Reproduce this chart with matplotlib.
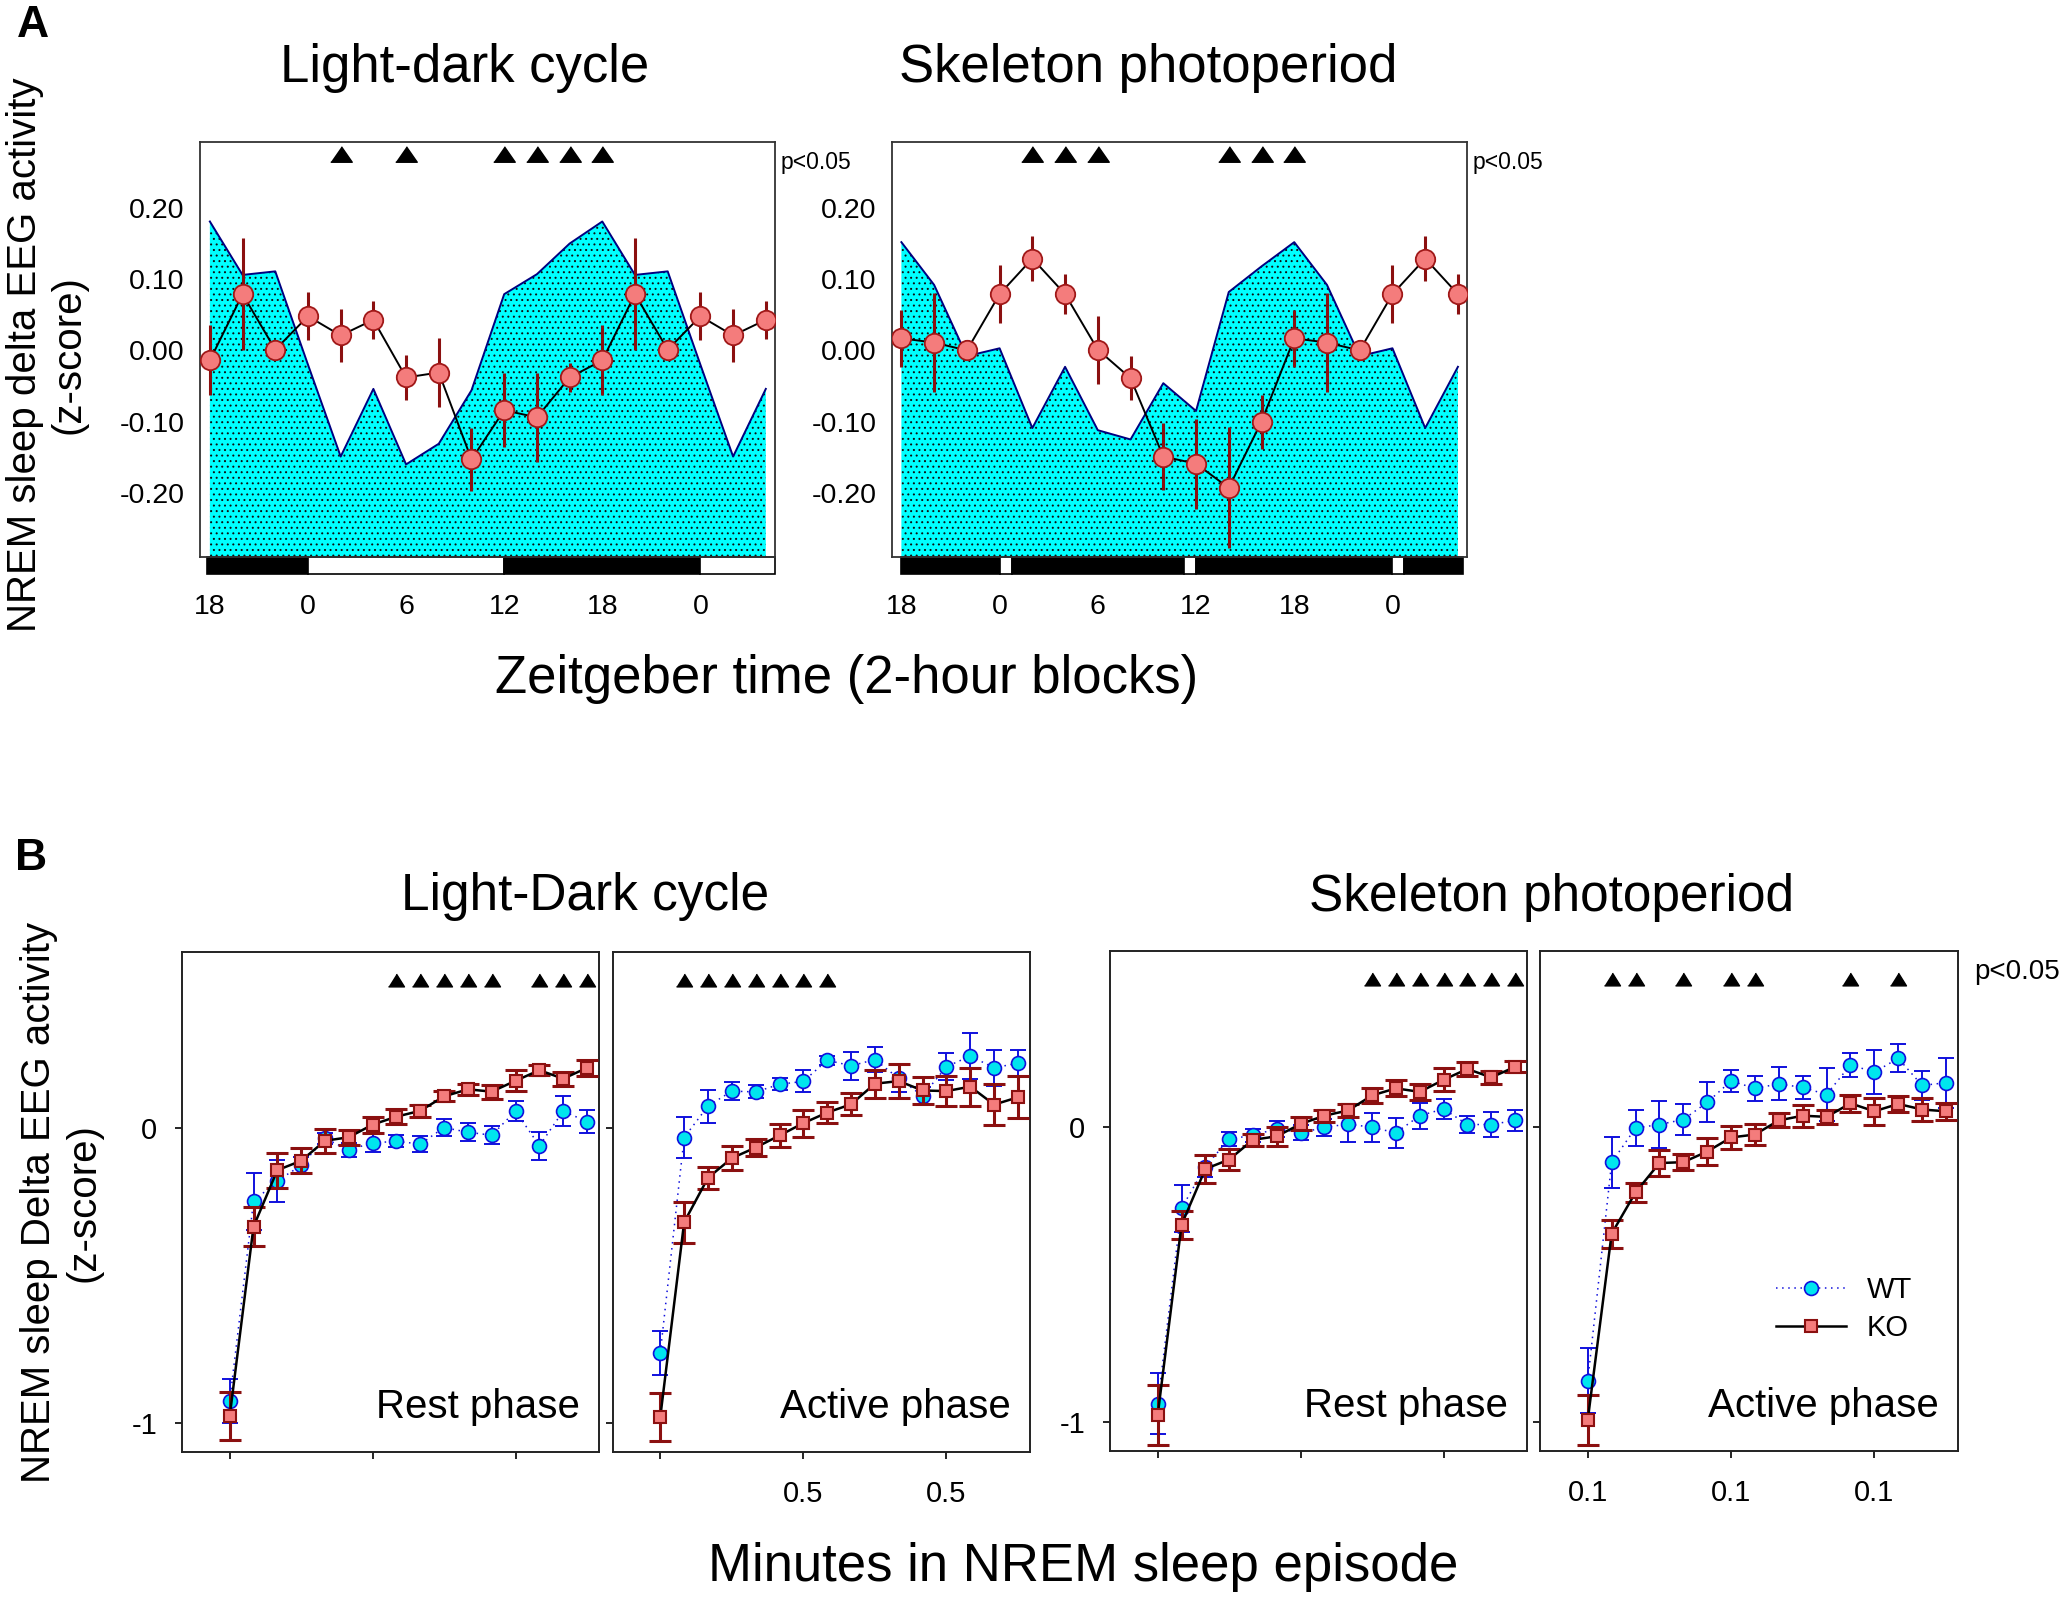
import numpy as np
import matplotlib
matplotlib.use("Agg")
import matplotlib.pyplot as plt
from matplotlib.patches import Rectangle
from matplotlib.transforms import blended_transform_factory

plt.rcParams['font.family'] = ['Liberation Sans', 'DejaVu Sans']
plt.rcParams['hatch.linewidth'] = 0.7

# ---------------- panel A data (2-hour blocks, double plotted) ----------------
zt_blocks = [18, 20, 22, 0, 2, 4, 6, 8, 10, 12, 14, 16, 18, 20, 22, 0, 2, 4]

ld_wt = [0.181, 0.106, 0.111, -0.020, -0.149, -0.054, -0.160, -0.131, -0.056,
         0.079, 0.107, 0.150, 0.181, 0.106, 0.111, -0.020, -0.149, -0.054]
ld_ko = [-0.014, 0.079, 0.001, 0.048, 0.021, 0.043, -0.038, -0.031, -0.153,
         -0.084, -0.094, -0.038, -0.014, 0.079, 0.001, 0.048, 0.021, 0.043]
ld_ko_err = [0.049, 0.079, 0.008, 0.034, 0.037, 0.027, 0.032, 0.049, 0.044,
             0.052, 0.062, 0.020, 0.049, 0.079, 0.008, 0.034, 0.037, 0.027]
ld_sig = [4, 6, 9, 10, 11, 12]

sp_wt = [0.152, 0.092, -0.008, 0.003, -0.109, -0.023, -0.112, -0.125, -0.046,
         -0.085, 0.082, 0.118, 0.152, 0.092, -0.008, 0.003, -0.109, -0.023]
sp_ko = [0.017, 0.011, 0.000, 0.079, 0.129, 0.079, 0.001, -0.039, -0.149,
         -0.159, -0.193, -0.100, 0.017, 0.011, 0.000, 0.079, 0.129, 0.079]
sp_ko_err = [0.040, 0.070, 0.008, 0.041, 0.031, 0.028, 0.048, 0.031, 0.047,
             0.063, 0.085, 0.038, 0.040, 0.070, 0.008, 0.041, 0.031, 0.028]
sp_sig = [4, 5, 6, 10, 11, 12]

# light/dark bars (block index start, end, colour)
ld_bar = [(-0.1, 3, 'black'), (3, 9, 'white'), (9, 15, 'black'), (15, 17.28, 'white')]
sp_bar = [(0, 3, 'black'), (3, 3.38, 'white'), (3.38, 8.62, 'black'), (8.62, 9, 'white'),
          (9, 15, 'black'), (15, 15.36, 'white'), (15.36, 17.16, 'black')]

# ---------------- panel B data (bins within NREM episode) ----------------
ld_rest_wt = [-0.928, -0.248, -0.178, -0.126, -0.034, -0.073, -0.049, -0.044,
              -0.053, 0.003, -0.013, -0.023, 0.059, -0.059, 0.059, 0.023]
ld_rest_wt_err = [0.075, 0.096, 0.072, 0.030, 0.020, 0.025, 0.030, 0.020,
                  0.027, 0.030, 0.030, 0.030, 0.033, 0.048, 0.050, 0.040]
ld_rest_ko = [-0.979, -0.334, -0.142, -0.110, -0.042, -0.030, 0.013, 0.040,
              0.060, 0.109, 0.133, 0.125, 0.162, 0.198, 0.169, 0.206]
ld_rest_ko_err = [0.082, 0.067, 0.060, 0.043, 0.040, 0.025, 0.027, 0.025,
                  0.020, 0.017, 0.019, 0.024, 0.036, 0.018, 0.024, 0.027]
ld_rest_sig = [7, 8, 9, 10, 11, 13, 14, 15]

ld_act_wt = [-0.763, -0.031, 0.076, 0.127, 0.124, 0.150, 0.160, 0.232,
             0.213, 0.234, 0.170, 0.111, 0.210, 0.246, 0.206, 0.222]
ld_act_wt_err = [0.075, 0.070, 0.056, 0.032, 0.022, 0.020, 0.037, 0.015,
                 0.047, 0.043, 0.045, 0.030, 0.045, 0.077, 0.062, 0.043]
ld_act_ko = [-0.981, -0.319, -0.168, -0.101, -0.065, -0.024, 0.018, 0.054,
             0.082, 0.152, 0.161, 0.129, 0.127, 0.142, 0.081, 0.106]
ld_act_ko_err = [0.081, 0.070, 0.038, 0.040, 0.029, 0.038, 0.046, 0.035,
                 0.038, 0.047, 0.058, 0.046, 0.050, 0.065, 0.070, 0.072]
ld_act_sig = [1, 2, 3, 4, 5, 6, 7]

sp_rest_wt = [-0.939, -0.275, -0.133, -0.039, -0.027, -0.004, -0.018, 0.000,
              0.012, 0.000, -0.018, 0.040, 0.063, 0.010, 0.010, 0.024]
sp_rest_wt_err = [0.103, 0.080, 0.035, 0.025, 0.023, 0.027, 0.026, 0.029,
                  0.063, 0.048, 0.051, 0.044, 0.035, 0.028, 0.042, 0.035]
sp_rest_ko = [-0.978, -0.331, -0.141, -0.109, -0.042, -0.030, 0.012, 0.040,
              0.058, 0.109, 0.133, 0.121, 0.162, 0.199, 0.170, 0.206]
sp_rest_ko_err = [0.102, 0.047, 0.049, 0.035, 0.021, 0.032, 0.022, 0.021,
                  0.021, 0.026, 0.027, 0.028, 0.039, 0.025, 0.023, 0.019]
sp_rest_sig = [9, 10, 11, 12, 13, 14, 15]

sp_act_wt = [-0.861, -0.119, -0.002, 0.010, 0.027, 0.085, 0.158, 0.133,
             0.148, 0.136, 0.112, 0.213, 0.188, 0.235, 0.143, 0.152]
sp_act_wt_err = [0.110, 0.086, 0.061, 0.080, 0.053, 0.068, 0.038, 0.043,
                 0.056, 0.038, 0.089, 0.040, 0.075, 0.048, 0.048, 0.085]
sp_act_ko = [-0.994, -0.361, -0.221, -0.121, -0.118, -0.082, -0.034, -0.024,
             0.024, 0.040, 0.036, 0.082, 0.055, 0.080, 0.061, 0.055]
sp_act_ko_err = [0.085, 0.048, 0.031, 0.043, 0.028, 0.045, 0.038, 0.035,
                 0.024, 0.037, 0.024, 0.028, 0.045, 0.028, 0.040, 0.029]
sp_act_sig = [1, 2, 4, 6, 7, 11, 13]

b_ticks = [0, 6, 12]
b_ticklabels = {'rest': ['', '', ''], 'ld_act': ['', '0.5', '0.5'], 'sp_act': ['0.1', '0.1', '0.1']}

# colours
cyan = '#00ffff'
navy = '#000080'
salmon = '#f47c7c'
darkred = '#8b1010'
wt_face = '#00e5ee'
wt_edge = '#1010dd'

fig = plt.figure(figsize=(20.71, 16.01), dpi=100)


def wide_triangle(ratio):
    return [(-1, -ratio), (1, -ratio), (0, ratio)]


def panel_a(ax, wt, ko, err, sig, bar, title, title_x):
    x = np.arange(len(zt_blocks))
    ymin, ymax = -0.29, 0.2926
    ax.fill_between(x, ymin, wt, facecolor=cyan, edgecolor='#101010', hatch='...',
                    linewidth=0, zorder=1)
    ax.plot(x, wt, color=navy, lw=1.4, zorder=2)
    ax.errorbar(x, ko, yerr=err, fmt='none', ecolor=darkred, elinewidth=2.2, zorder=3)
    ax.plot(x, ko, color='black', lw=1.4, marker='o', ms=14, mfc=salmon,
            mec='#a01818', mew=1.3, zorder=4)
    ax.plot(sig, [0.276] * len(sig), ls='none', marker=wide_triangle(0.72), ms=15.5,
            color='black', zorder=5)
    ax.set_xlim(-0.3, 17.28)
    ax.set_ylim(ymin, ymax)
    ax.set_yticks([0.2, 0.1, 0.0, -0.1, -0.2])
    ax.set_yticklabels(['0.20', '0.10', '0.00', '-0.10', '-0.20'])
    ticks = [i for i, h in enumerate(zt_blocks) if h % 6 == 0]
    ax.set_xticks(ticks)
    ax.set_xticklabels([str(zt_blocks[i]) for i in ticks])
    ax.tick_params(axis='y', length=0, pad=11, labelsize=20.5)
    ax.tick_params(axis='x', length=0, pad=27, labelsize=20.5)
    for s in ax.spines.values():
        s.set_color('#333333')
        s.set_linewidth(1.3)
    trans = blended_transform_factory(ax.transData, ax.transAxes)
    for x0, x1, c in bar:
        ax.add_patch(Rectangle((x0, -0.041), x1 - x0, 0.041, transform=trans,
                               facecolor=c, edgecolor='black', lw=1.2, clip_on=False))
    ax.text(1.01, 0.95, 'p<0.05', transform=ax.transAxes, fontsize=16.5,
            ha='left', va='center')
    fig.text(title_x, 0.949, title, fontsize=38, ha='center', va='baseline')


axA1 = fig.add_axes([0.0966, 0.6521, 0.2776, 0.2592])
axA2 = fig.add_axes([0.4305, 0.6521, 0.2779, 0.2592])
panel_a(axA1, ld_wt, ld_ko, ld_ko_err, ld_sig, ld_bar, 'Light-dark cycle', 0.2245)
panel_a(axA2, sp_wt, sp_ko, sp_ko_err, sp_sig, sp_bar, 'Skeleton photoperiod', 0.5544)

fig.text(0.016, 0.984, 'A', fontsize=32, fontweight='bold', ha='center', va='center')
fig.text(0.0225, 0.7785, 'NREM sleep delta EEG activity\n(z-score)', fontsize=29,
         rotation=90, ha='center', va='center', multialignment='center')
fig.text(0.409, 0.567, 'Zeitgeber time (2-hour blocks)', fontsize=38,
         ha='center', va='baseline')


def panel_b(ax, wt, wt_err, ko, ko_err, sig, labels, phase, show_y):
    x = np.arange(len(wt))
    ax.errorbar(x, wt, yerr=wt_err, fmt='none', ecolor=wt_edge, elinewidth=1.4,
                capsize=5.5, capthick=1.4, zorder=2)
    wt_line, = ax.plot(x, wt, color=wt_edge, lw=1.1, ls=(0, (1, 3)), marker='o',
                       ms=10, mfc=wt_face, mec=wt_edge, mew=1.2, zorder=3)
    ax.errorbar(x, ko, yerr=ko_err, fmt='none', ecolor=darkred, elinewidth=2.2,
                capsize=8, capthick=2.2, zorder=4)
    ko_line, = ax.plot(x, ko, color='black', lw=1.8, marker='s', ms=9,
                       mfc=salmon, mec=darkred, mew=1.5, zorder=5)
    ax.plot(sig, [0.505] * len(sig), ls='none', marker=wide_triangle(0.8), ms=11.5,
            color='black', zorder=6)
    ax.set_xlim(-2, 15.5)
    ax.set_ylim(-1.1, 0.6)
    ax.set_xticks(b_ticks)
    ax.set_xticklabels(labels)
    ax.set_yticks([0, -1])
    ax.set_yticklabels(['0', '-1'] if show_y else ['', ''])
    ax.tick_params(axis='both', direction='out', length=5, width=1.2, labelsize=21)
    ax.tick_params(axis='x', pad=15)
    ax.tick_params(axis='y', pad=13)
    for s in ax.spines.values():
        s.set_color('#222222')
        s.set_linewidth(1.4)
    ax.text(0.955, 0.068, phase, transform=ax.transAxes, fontsize=29,
            ha='right', va='baseline')
    return wt_line, ko_line


axB1 = fig.add_axes([0.0879, 0.0931, 0.2013, 0.3123])
axB2 = fig.add_axes([0.2958, 0.0931, 0.2015, 0.3123])
axB3 = fig.add_axes([0.5360, 0.0937, 0.2013, 0.3123])
axB4 = fig.add_axes([0.7436, 0.0937, 0.2018, 0.3123])

panel_b(axB1, ld_rest_wt, ld_rest_wt_err, ld_rest_ko, ld_rest_ko_err, ld_rest_sig,
        b_ticklabels['rest'], 'Rest phase', True)
panel_b(axB2, ld_act_wt, ld_act_wt_err, ld_act_ko, ld_act_ko_err, ld_act_sig,
        b_ticklabels['ld_act'], 'Active phase', False)
panel_b(axB3, sp_rest_wt, sp_rest_wt_err, sp_rest_ko, sp_rest_ko_err, sp_rest_sig,
        b_ticklabels['rest'], 'Rest phase', True)
wt_h, ko_h = panel_b(axB4, sp_act_wt, sp_act_wt_err, sp_act_ko, sp_act_ko_err, sp_act_sig,
                     b_ticklabels['sp_act'], 'Active phase', False)

axB4.legend([wt_h, ko_h], ['WT', 'KO'], loc='upper left', bbox_to_anchor=(0.565, 0.35),
            frameon=False, fontsize=21, handlelength=2.4, handletextpad=0.7,
            labelspacing=0.35, borderpad=0, borderaxespad=0)
axB4.text(1.04, 0.958, 'p<0.05', transform=axB4.transAxes, fontsize=20,
          ha='left', va='center')

fig.text(0.0148, 0.4635, 'B', fontsize=32, fontweight='bold', ha='center', va='center')
fig.text(0.2825, 0.4316, 'Light-Dark cycle', fontsize=37, ha='center', va='baseline')
fig.text(0.7494, 0.431, 'Skeleton photoperiod', fontsize=37, ha='center', va='baseline')
fig.text(0.0295, 0.249, 'NREM sleep Delta EEG activity\n(z-score)', fontsize=29,
         rotation=90, ha='center', va='center', multialignment='center')
fig.text(0.523, 0.0125, 'Minutes in NREM sleep episode', fontsize=38,
         ha='center', va='baseline')

fig.savefig('out.png', dpi=100)
